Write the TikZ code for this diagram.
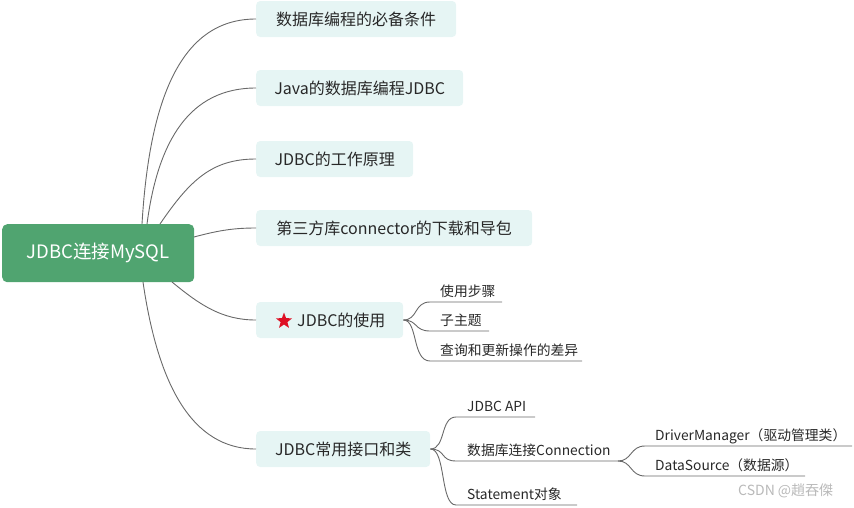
\documentclass[tikz,border=0pt]{standalone}
\usepackage{fontspec}
\setmainfont{Noto Sans CJK SC}
\usetikzlibrary{shapes.geometric}
\definecolor{rootg}{RGB}{80,164,112}
\definecolor{boxfill}{RGB}{230,245,244}
\definecolor{txt}{RGB}{40,40,40}
\definecolor{lin}{RGB}{105,105,105}
\definecolor{starred}{RGB}{222,16,36}
\definecolor{wm}{RGB}{185,185,185}
\begin{document}
\begin{tikzpicture}[x=1pt,y=-1pt,
  rootbox/.style={fill=rootg, rounded corners=5pt, minimum width=192pt, minimum height=58pt, anchor=north west, inner sep=0pt, text=white, font=\fontsize{18.5}{21}\selectfont},
  topic/.style={fill=boxfill, rounded corners=4pt, minimum height=36pt, anchor=west, inner sep=0pt, text=txt, font=\fontsize{16}{19}\selectfont},
  topictext/.style={anchor=west, inner sep=0pt, text=txt, font=\fontsize{16}{19}\selectfont},
  leaf/.style={anchor=base west, inner sep=0pt, text=txt, font=\fontsize{13.8}{16}\selectfont},
  conn/.style={draw=lin, line width=0.9pt}]
\useasboundingbox (0,0) rectangle (854,507);

% root
\node[rootbox] (root) at (2,224) {JDBC连接MySQL};

% main topics
\node[topic, minimum width=200pt] (b1) at (256,19) {数据库编程的必备条件};
\node[topic, minimum width=207pt] (b2) at (256,88) {Java的数据库编程JDBC};
\node[topic, minimum width=157pt] (b3) at (256,159) {JDBC的工作原理};
\node[topic, minimum width=276pt] (b4) at (256,228) {第三方库connector的下载和导包};
\node[topic, minimum width=147pt] (b5) at (256,320) {};
\node[star, star points=5, star point ratio=2.4, fill=starred, minimum size=17pt, inner sep=0pt] (st) at (284,321) {};
\node[topictext] (b5t) at (297,320) {JDBC的使用};
\node[topic, minimum width=174pt] (b6) at (256,449) {JDBC常用接口和类};

% root anchor points
\coordinate (r1) at (142,224);
\coordinate (r2) at (147,224);
\coordinate (r3) at (160,224);
\coordinate (r4) at (194,237);
\coordinate (r5) at (172,282);
\coordinate (r6) at (143,282);

\draw[conn] (r1) .. controls (150,90) and (185,19) .. (b1.west);
\draw[conn] (r2) .. controls (158,140) and (190,88) .. (b2.west);
\draw[conn] (r3) .. controls (190,180) and (212,159) .. (b3.west);
\draw[conn] (r4) .. controls (220,230) and (235,228) .. (b4.west);
\draw[conn] (r5) .. controls (200,305) and (222,320) .. (b5.west);
\draw[conn] (r6) .. controls (158,385) and (192,449) .. (b6.west);

% children of b5
\coordinate (u1s) at (430,302); \coordinate (u1e) at (502,302);
\coordinate (u2s) at (430,331); \coordinate (u2e) at (489,331);
\coordinate (u3s) at (430,361); \coordinate (u3e) at (582,361);
\draw[conn] (b5.east) .. controls (418,320) and (414,302) .. (u1s) -- (u1e);
\draw[conn] (b5.east) .. controls (418,320) and (414,331) .. (u2s) -- (u2e);
\draw[conn] (b5.east) .. controls (418,320) and (412,361) .. (u3s) -- (u3e);
\node[leaf] (l1) at (440,296) {使用步骤};
\node[leaf] (l2) at (440,325) {子主题};
\node[leaf] (l3) at (440,355) {查询和更新操作的差异};

% children of b6
\coordinate (v1s) at (456,417); \coordinate (v1e) at (535,417);
\coordinate (v2s) at (456,461); \coordinate (v2e) at (618,461);
\coordinate (v3s) at (456,505); \coordinate (v3e) at (577,505);
\draw[conn] (b6.east) .. controls (446,449) and (440,417) .. (v1s) -- (v1e);
\draw[conn] (b6.east) .. controls (446,449) and (440,461) .. (v2s) -- (v2e);
\draw[conn] (b6.east) .. controls (446,449) and (440,505) .. (v3s) -- (v3e);
\node[leaf] (m1) at (467,411) {JDBC API};
\node[leaf] (m2) at (467,455) {数据库连接Connection};
\node[leaf] (m3) at (467,499) {Statement对象};

% grandchildren
\coordinate (w1s) at (645,446); \coordinate (w1e) at (852,446);
\coordinate (w2s) at (645,476); \coordinate (w2e) at (805,476);
\draw[conn] (v2e) .. controls (632,461) and (630,446) .. (w1s) -- (w1e);
\draw[conn] (v2e) .. controls (632,461) and (630,476) .. (w2s) -- (w2e);
\node[leaf] (g1) at (655,440) {DriverManager（驱动管理类）};
\node[leaf] (g2) at (655,470) {DataSource（数据源）};

% watermark
\node[anchor=base west, inner sep=0pt, text=wm, font=\fontsize{14}{16}\selectfont] (wmk) at (738,495) {CSDN @趙吞傑};
\end{tikzpicture}
\end{document}
